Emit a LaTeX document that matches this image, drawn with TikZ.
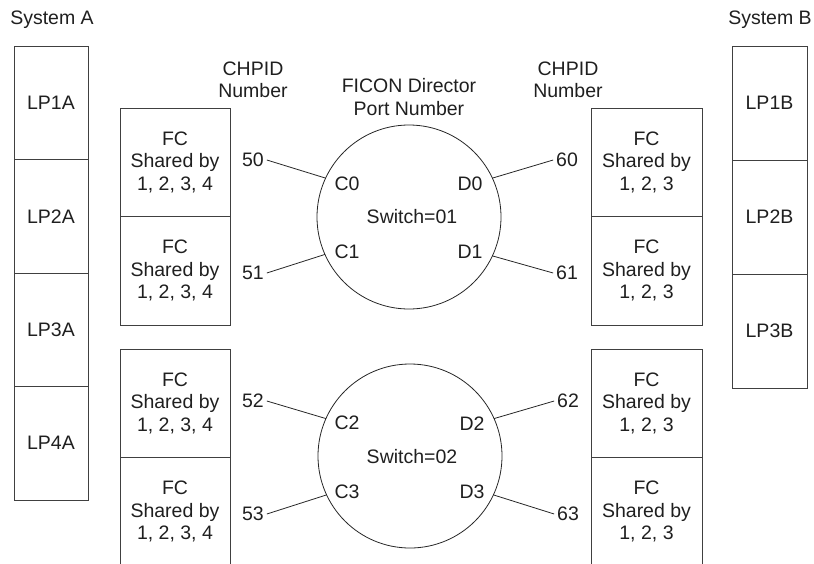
\documentclass[tikz,border=0pt]{standalone}
\usepackage{fontspec}
\setmainfont{Liberation Sans}
\begin{document}
\begin{tikzpicture}[x=1pt,y=-1pt,
  every node/.style={font=\fontsize{19.5}{22.5}\selectfont, text=black!88, inner sep=0pt, outer sep=0pt, align=center},
  lpa/.style={draw=black!75, line width=0.8pt, minimum width=74pt, minimum height=113.5pt},
  lpb/.style={draw=black!75, line width=0.8pt, minimum width=75pt, minimum height=114pt},
  fccell/.style={draw=black!75, line width=0.8pt, minimum width=110pt, minimum height=108.5pt},
  switchc/.style={draw=black!85, line width=0.8pt, circle, minimum size=184pt},
  num/.style={inner sep=3pt},
  conn/.style={draw=black!85, line width=0.8pt}]
\clip (0,0) rectangle (814,563);
% titles
\node (sysA) at (52,20) {System A};
\node (sysB) at (770,20) {System B};
\node (chL) at (253,80) {CHPID\\Number};
\node (fic) at (409,97) {FICON Director\\Port Number};
\node (chR) at (568,80) {CHPID\\Number};
% System A
\node[lpa] (A1) at (51,102.75) {LP1A};
\node[lpa] (A2) at (51,216.25) {LP2A};
\node[lpa] (A3) at (51,329.75) {LP3A};
\node[lpa] (A4) at (51,443.25) {LP4A};
% System B
\node[lpb] (B1) at (769.5,103) {LP1B};
\node[lpb] (B2) at (769.5,217) {LP2B};
\node[lpb] (B3) at (769.5,331) {LP3B};
% left FC cells
\node[fccell] (L1) at (175,162.25) {FC\\Shared by\\1, 2, 3, 4};
\node[fccell] (L2) at (175,270.75) {FC\\Shared by\\1, 2, 3, 4};
\node[fccell] (L3) at (175,403.25) {FC\\Shared by\\1, 2, 3, 4};
\node[fccell] (L4) at (175,511.75) {FC\\Shared by\\1, 2, 3, 4};
% right FC cells
\node[fccell, minimum width=111pt] (R1) at (646.5,162.25) {FC\\Shared by\\1, 2, 3};
\node[fccell, minimum width=111pt] (R2) at (646.5,270.75) {FC\\Shared by\\1, 2, 3};
\node[fccell, minimum width=111pt] (R3) at (646.5,403.25) {FC\\Shared by\\1, 2, 3};
\node[fccell, minimum width=111pt] (R4) at (646.5,511.75) {FC\\Shared by\\1, 2, 3};
% switches
\node[switchc] (sw1) at (409,217) {};
\node (s1t) at (412,217) {Switch=01};
\node[switchc] (sw2) at (410,456) {};
\node (s2t) at (412,457) {Switch=02};
% port labels
\node (C0) at (347,184) {C0};
\node (D0) at (470,184) {D0};
\node (C1) at (347,252) {C1};
\node (D1) at (470,252) {D1};
\node (C2) at (347,423) {C2};
\node (D2) at (472,424) {D2};
\node (C3) at (347,492) {C3};
\node (D3) at (472,492) {D3};
% chpid numbers
\node[num] (n50) at (253,160) {50};
\node[num] (n51) at (253,273) {51};
\node[num] (n52) at (253,401) {52};
\node[num] (n53) at (253,514) {53};
\node[num] (n60) at (567,160) {60};
\node[num] (n61) at (567,273) {61};
\node[num] (n62) at (568,401) {62};
\node[num] (n63) at (568,514) {63};
% connectors
\draw[conn] (n50.east) -- (sw1.155);
\draw[conn] (n51.east) -- (sw1.204);
\draw[conn] (n60.west) -- (sw1.25);
\draw[conn] (n61.west) -- (sw1.335);
\draw[conn] (n52.east) -- (sw2.156);
\draw[conn] (n53.east) -- (sw2.205);
\draw[conn] (n62.west) -- (sw2.24);
\draw[conn] (n63.west) -- (sw2.335);
\end{tikzpicture}
\end{document}
